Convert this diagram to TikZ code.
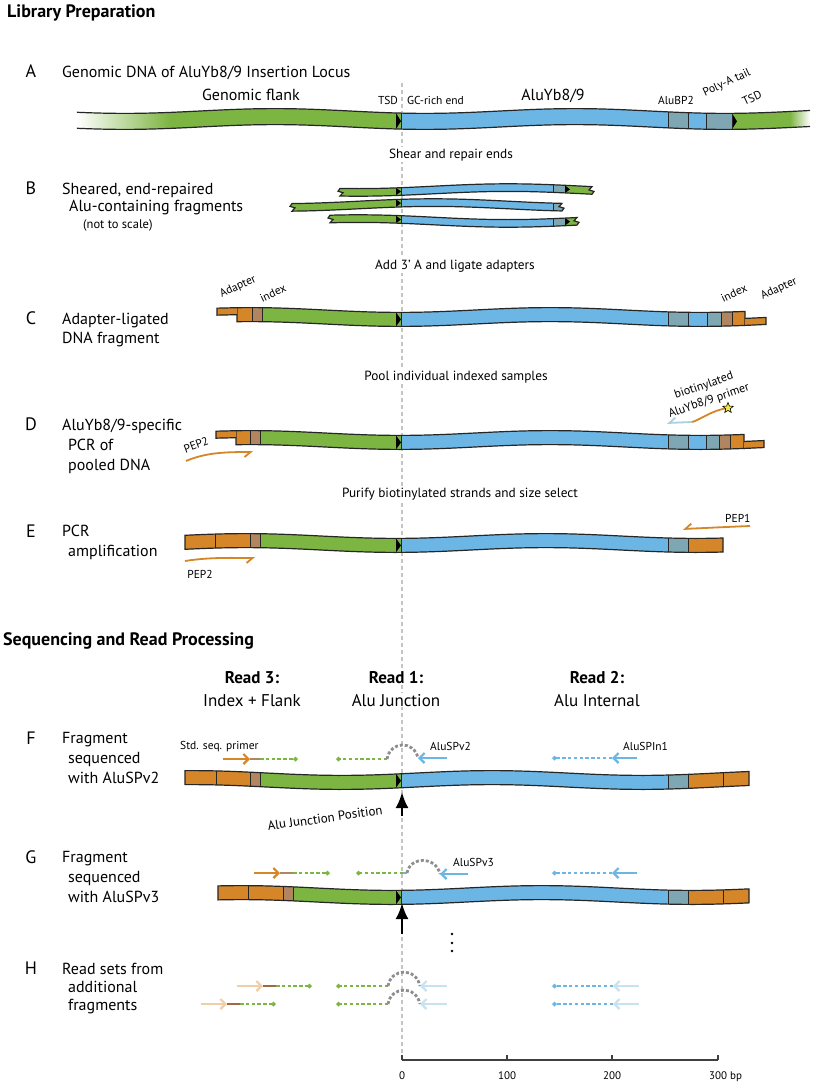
\documentclass[tikz,border=0pt]{standalone}
\usepackage{fontspec}
\setmainfont{PT Sans}
\usetikzlibrary{arrows.meta,shapes.geometric}
\definecolor{cgreen}{HTML}{7DB543}
\definecolor{cblue}{HTML}{6CB6E5}
\definecolor{cgray}{HTML}{7FA7B3}
\definecolor{corange}{HTML}{D48629}
\definecolor{cbrown}{HTML}{B08560}
\definecolor{cdbrown}{HTML}{9C6A45}
\definecolor{clblue}{HTML}{A9CFE0}
\definecolor{cfblue}{HTML}{C8E3EF}
\definecolor{cforange}{HTML}{EFCFA8}
\definecolor{carc}{HTML}{8E8E8E}
\definecolor{cdash}{HTML}{C4C4C4}
\definecolor{cstar}{HTML}{F3E845}

\newcommand\spath[5]{plot[domain=#1:#2,samples=60] (\x,{#3-#4+wa(\x,#5)}) -- plot[domain=#2:#1,samples=60] (\x,{#3+#4+wa(\x,#5)}) -- cycle}
\newcommand\sg[3]{\fill[#3] (#1,\cy-16) rectangle (#2,\cy+16);}
\newcommand\dv[1]{\draw[divl] (#1,\cy-16) -- (#1,\cy+16);}
\newcommand\tsd[1]{\pgfmathsetmacro\wo{wa(#1,\ph)}\fill[black] (#1-5,\cy+\wo-\hy) -- (#1,\cy+\wo) -- (#1-5,\cy+\wo+\hy) -- cycle;}
\newcommand\dna[6]{\begin{scope}\def\cy{#3}\def\hy{#4}\def\ph{#5}\clip \spath{#1}{#2}{#3}{#4}{#5}; #6 \end{scope}\draw[outl] \spath{#1}{#2}{#3}{#4}{#5};}
\newcommand\bpath[4]{plot[domain=#1:#2,samples=40] (\x,{#3-3.8+wa(\x,#4)}) -- (#2-3,#3+\wR-0.5) -- (#2+2,#3+\wR+1) -- plot[domain=#2:#1,samples=40] (\x,{#3+3.8+wa(\x,#4)}) -- (#1+3,#3+\wL+0.5) -- (#1-2,#3+\wL-1) -- cycle}
\newcommand\bdna[5]{\pgfmathsetmacro\wL{wa(#1,#4)}\pgfmathsetmacro\wR{wa(#2,#4)}\begin{scope}\def\cy{#3}\def\hy{3.8}\def\ph{#4}\clip \bpath{#1}{#2}{#3}{#4}; #5 \end{scope}\draw[outl] \bpath{#1}{#2}{#3}{#4};}
\newcommand\ovtop[5]{\pgfmathsetmacro\wA{wa(#1,#5)}\pgfmathsetmacro\wB{wa(#2,#5)}\filldraw[fill=corange,outl] (#2,#3+\wB) -- (#1,#3+\wA) -- (#1,#3-#4+\wA) -- (#2,#3-#4+\wB);}
\newcommand\ovbot[5]{\pgfmathsetmacro\wA{wa(#1,#5)}\pgfmathsetmacro\wB{wa(#2,#5)}\filldraw[fill=corange,outl] (#1,#3+\wA) -- (#2,#3+\wB) -- (#2,#3+#4+\wB) -- (#1,#3+#4+\wA);}

\begin{document}
\begin{tikzpicture}[x=1pt,y=-1pt,
  declare function={wa(\x,\p)=2.4*sin(1.2*\x+\p);},
  outl/.style={draw=black!85,line width=1.2},
  divl/.style={draw=black!85,line width=0.9},
  ttl/.style={font=\fontsize{18}{21}\selectfont\bfseries,anchor=base west,inner sep=0},
  rowl/.style={font=\fontsize{18}{21}\selectfont,anchor=base,inner sep=0},
  big/.style={font=\fontsize{16}{19}\selectfont,anchor=base west,inner sep=0},
  stepnote/.style={font=\fontsize{13.3}{16}\selectfont,anchor=base,fill=white,inner sep=1.5},
  sml/.style={font=\fontsize{11.5}{13}\selectfont,inner sep=0},
  rdh/.style={font=\fontsize{17}{20}\selectfont,anchor=base,fill=white,inner sep=1},
  gread/.style={draw=cgreen,line width=2.6,dash pattern=on 3.5pt off 2.3pt,-{Turned Square[length=5,width=5]}},
  bread/.style={draw=cblue,line width=2.6,dash pattern=on 3.5pt off 2.3pt,-{Turned Square[length=5,width=5]}},
  prim/.style={line width=2.2,-{Straight Barb[length=5,width=10]}},
  harp/.style={line width=1.8,-{Straight Barb[harpoon,swap,length=6,width=10]}},
  arcl/.style={draw=carc,line width=2.8,dash pattern=on 3pt off 2pt},
  jarrow/.style={line width=2.6,-{Latex[length=16,width=13]}},
  idx/.style={line width=2.6}
]
\useasboundingbox (0,0) rectangle (816,1092);
\fill[white] (0,0) rectangle (816,1092);

% vertical guide line
\coordinate (vtop) at (402,83);
\coordinate (vbot) at (402,1060);
\draw[cdash,line width=1.1,dash pattern=on 4pt off 3pt] (vtop) -- (vbot);

% ---------- headings ----------
\node[ttl] (t1) at (7,17) {Library Preparation};
\node[ttl] (t2) at (3,645) {Sequencing and Read Processing};

% ---------- A ----------
\node[rowl] (lA) at (31,77) {A};
\node[big] (dA) at (62,77) {Genomic DNA of AluYb8/9 Insertion Locus};
\node[big,anchor=base] (gf) at (251,100) {Genomic flank};
\node[big,anchor=base] (ay) at (553,100) {AluYb8/9};
\node[sml,anchor=base] (tsd1) at (388,104) {TSD};
\node[sml,anchor=base west] (gc) at (407,104) {GC-rich end};
\node[sml,anchor=base] (bp2) at (676,104) {AluBP2};
\node[sml,rotate=25] (pa) at (727,83) {Poly-A tail};
\node[sml,rotate=25] (tsd2) at (752,98) {TSD};
\begin{scope}
\def\cy{119}\def\hy{8}\def\ph{-60}
\clip \spath{77}{810}{119}{8}{-60};
\shade[left color=white,right color=cgreen] (77,100) rectangle (170,140);
\sg{169}{401}{cgreen}
\tsd{401}
\sg{401}{668}{cblue}\sg{668}{688}{cgray}\sg{688}{706}{cblue}\sg{706}{732}{cgray}
\sg{732}{791}{cgreen}
\tsd{737}
\shade[left color=cgreen,right color=white] (790,100) rectangle (810,140);
\dv{401}\dv{668}\dv{688}\dv{706}\dv{732}
\end{scope}
\draw[outl] plot[domain=77:810,samples=80] (\x,{111+wa(\x,-60)});
\draw[outl] plot[domain=77:810,samples=80] (\x,{127+wa(\x,-60)});

% ---------- B ----------
\node[stepnote] (sB) at (451,158) {Shear and repair ends};
\node[rowl] (lB) at (31,194) {B};
\node[big] (bl1) at (62,194) {Sheared, end-repaired};
\node[big] (bl2) at (69,211) {Alu-containing fragments};
\node[big,font=\fontsize{12.5}{15}\selectfont] (bl3) at (83,228) {(not to scale)};
\bdna{340}{592}{190}{20}{\sg{330}{401}{cgreen}\tsd{401}\sg{401}{553}{cblue}\sg{553}{566}{cgray}\sg{566}{600}{cgreen}\tsd{570}\dv{401}\dv{553}}
\bdna{292}{562}{205}{110}{\sg{280}{401}{cgreen}\tsd{401}\sg{401}{553}{cblue}\sg{553}{570}{cgray}\dv{401}\dv{553}}
\bdna{330}{577}{221}{200}{\sg{320}{401}{cgreen}\tsd{401}\sg{401}{553}{cblue}\sg{553}{566}{cgray}\sg{566}{590}{cgreen}\tsd{570}\dv{401}\dv{553}}

% ---------- C ----------
\node[stepnote] (sC) at (455,269) {Add 3’ A and ligate adapters};
\node[rowl] (lC) at (31,324) {C};
\node[big] (cl1) at (62,324) {Adapter-ligated};
\node[big] (cl2) at (62,343) {DNA fragment};
\node[sml,rotate=25] (ad1) at (238,287) {Adapter};
\node[sml,rotate=25] (ix1) at (273,293) {index};
\node[sml,rotate=25] (ix2) at (734,293) {index};
\node[sml,rotate=25] (ad2) at (779,289) {Adapter};
\dna{237}{745}{317}{7}{-30}{\sg{230}{252}{corange}\sg{252}{262}{cbrown}\sg{262}{401}{cgreen}\tsd{401}\sg{401}{668}{cblue}\sg{668}{688}{cgray}\sg{688}{707}{cblue}\sg{707}{721}{cgray}\sg{721}{732}{cbrown}\sg{732}{750}{corange}\dv{252}\dv{262}\dv{401}\dv{668}\dv{688}\dv{707}\dv{721}\dv{732}}
\ovtop{217}{237}{317}{7}{-30}
\ovbot{745}{766}{317}{7}{-30}

% ---------- D ----------
\node[stepnote] (sD) at (456,380) {Pool individual indexed samples};
\node[rowl] (lD) at (31,430) {D};
\node[big] (dl1) at (62,430) {AluYb8/9-specific};
\node[big] (dl2) at (68,450) {PCR of};
\node[big] (dl3) at (68,470) {pooled DNA};
\dna{236}{744}{440}{7}{-30}{\sg{230}{250}{corange}\sg{250}{260}{cbrown}\sg{260}{401}{cgreen}\tsd{401}\sg{401}{668}{cblue}\sg{668}{688}{cgray}\sg{688}{706}{cblue}\sg{706}{719}{cgray}\sg{719}{730}{cbrown}\sg{730}{750}{corange}\dv{250}\dv{260}\dv{401}\dv{668}\dv{688}\dv{706}\dv{719}\dv{730}}
\ovtop{216}{236}{440}{7}{-30}
\ovbot{744}{764}{440}{7}{-30}
\node[sml,rotate=20] (pep2a) at (196,445) {PEP2};
\coordinate (p2a) at (186,461);
\coordinate (p2b) at (253,452);
\draw[corange,harp] (p2a) .. controls (205,453) and (222,452) .. (p2b);
\node[sml,rotate=19,font=\fontsize{12}{14}\selectfont] (bio1) at (704,386) {biotinylated};
\node[sml,rotate=19,font=\fontsize{12}{14}\selectfont] (bio2) at (709,401) {AluYb8/9 primer};
\coordinate (bpm) at (692,422);
\coordinate (bpe) at (667,423);
\coordinate (bps) at (728,408);
\draw[corange,line width=1.8] (bps) .. controls (712,410) and (700,420) .. (bpm);
\draw[clblue,harp] (bpm) -- (bpe);
\node[star,star points=5,star point ratio=2.3,minimum size=11,inner sep=0,fill=cstar,draw=black,line width=0.6] (bt) at (bps) {};

% ---------- E ----------
\node[stepnote] (sE) at (460,497) {Purify biotinylated strands and size select};
\node[rowl] (lE) at (31,537) {E};
\node[big] (el1) at (62,536) {PCR};
\node[big] (el2) at (68,556) {amplification};
\dna{185}{723}{543}{7}{-25}{\sg{180}{250}{corange}\sg{250}{260}{cbrown}\sg{260}{401}{cgreen}\tsd{401}\sg{401}{668}{cblue}\sg{668}{688}{cgray}\sg{688}{730}{corange}\dv{215}\dv{250}\dv{260}\dv{401}\dv{668}\dv{688}}
\node[sml,anchor=base west] (pep1) at (725,522) {PEP1};
\coordinate (p1a) at (750,526);
\coordinate (p1b) at (683,529);
\draw[corange,harp] (p1a) .. controls (725,527) and (705,528) .. (p1b);
\coordinate (p2c) at (185,561);
\coordinate (p2d) at (255,558);
\draw[corange,harp] (p2c) .. controls (210,557) and (232,558) .. (p2d);
\node[sml] (pep2b) at (200,574) {PEP2};

% ---------- read headers ----------
\node[rdh,font=\fontsize{17}{20}\selectfont\bfseries] (r3) at (252,683) {Read 3:};
\node[rdh] (r3b) at (252,706) {Index + Flank};
\node[rdh,font=\fontsize{17}{20}\selectfont\bfseries] (r1) at (396,683) {Read 1:};
\node[rdh] (r1b) at (396,706) {Alu Junction};
\node[rdh,font=\fontsize{17}{20}\selectfont\bfseries] (r2) at (597,683) {Read 2:};
\node[rdh] (r2b) at (597,706) {Alu Internal};

% ---------- F ----------
\node[rowl] (lF) at (31,744) {F};
\node[big] (fl1) at (62,743) {Fragment};
\node[big] (fl2) at (68,763) {sequenced};
\node[big] (fl3) at (68,783) {with AluSPv2};
\dna{185}{749}{780}{7}{40}{\sg{180}{250}{corange}\sg{250}{260}{cbrown}\sg{260}{401}{cgreen}\tsd{401}\sg{401}{668}{cblue}\sg{668}{688}{cgray}\sg{688}{755}{corange}\dv{216}\dv{250}\dv{260}\dv{401}\dv{668}\dv{688}\dv{723}}
\node[sml,anchor=base west] (ssp) at (180,749) {Std. seq. primer};
\node[sml,anchor=base west] (sv2) at (430,750) {AluSPv2};
\node[sml,anchor=base west] (sin1) at (623,750) {AluSPIn1};
\coordinate (f3a) at (223,759);
\coordinate (f3b) at (250,759);
\coordinate (f3c) at (260,759);
\coordinate (f3d) at (298,759);
\draw[corange,prim] (f3a) -- (f3b);
\draw[cbrown,idx] (f3b) -- (f3c);
\draw[gread] (f3c) -- (f3d);
\coordinate (f1a) at (387,759);
\coordinate (f1b) at (336,759);
\coordinate (f1c) at (418,758);
\coordinate (f1d) at (447,758);
\draw[gread] (f1a) -- (f1b);
\draw[arcl] (f1a) .. controls (390,741) and (414,740) .. (f1c);
\draw[cblue,prim] (f1d) -- (f1c);
\coordinate (f2a) at (612,758);
\coordinate (f2b) at (552,758);
\coordinate (f2c) at (637,758);
\draw[bread] (f2a) -- (f2b);
\draw[cblue,prim] (f2c) -- (f2a);
\coordinate (ja1) at (402,816);
\coordinate (ja2) at (402,792);
\draw[jarrow] (ja1) -- (ja2);
\node[sml,rotate=8,font=\fontsize{13}{15}\selectfont] (ajp) at (325,818) {Alu Junction Position};

% ---------- G ----------
\node[rowl] (lG) at (31,863) {G};
\node[big] (gl1) at (62,862) {Fragment};
\node[big] (gl2) at (68,882) {sequenced};
\node[big] (gl3) at (68,902) {with AluSPv3};
\dna{218}{749}{895}{7}{-20}{\sg{210}{283}{corange}\sg{283}{293}{cbrown}\sg{293}{401}{cgreen}\tsd{401}\sg{401}{668}{cblue}\sg{668}{688}{cgray}\sg{688}{755}{corange}\dv{248}\dv{283}\dv{293}\dv{401}\dv{668}\dv{688}\dv{723}}
\node[sml,anchor=base west] (sv3) at (453,866) {AluSPv3};
\coordinate (g3a) at (254,873);
\coordinate (g3b) at (280,873);
\coordinate (g3c) at (293,873);
\coordinate (g3d) at (330,873);
\draw[corange,prim] (g3a) -- (g3b);
\draw[cbrown,idx] (g3b) -- (g3c);
\draw[gread] (g3c) -- (g3d);
\coordinate (g1a) at (403,873);
\coordinate (g1b) at (356,873);
\coordinate (g1e) at (407,873);
\coordinate (g1c) at (440,874);
\coordinate (g1d) at (468,874);
\draw[gread] (g1a) -- (g1b);
\draw[cblue,idx] (g1a) -- (g1e);
\draw[arcl] (g1e) .. controls (410,856) and (436,856) .. (g1c);
\draw[cblue,prim] (g1d) -- (g1c);
\coordinate (g2a) at (612,873);
\coordinate (g2b) at (552,873);
\coordinate (g2c) at (637,873);
\draw[bread] (g2a) -- (g2b);
\draw[cblue,prim] (g2c) -- (g2a);
\coordinate (jb1) at (402,934);
\coordinate (jb2) at (402,903);
\draw[jarrow] (jb1) -- (jb2);
\foreach \i/\yy in {1/934,2/943,3/951}{\node[circle,fill=black,inner sep=0,minimum size=2.8] (dot\i) at (452,\yy) {};}

% ---------- H ----------
\node[rowl] (lH) at (31,974) {H};
\node[big] (hl1) at (62,974) {Read sets from};
\node[big] (hl2) at (68,992) {additional};
\node[big] (hl3) at (68,1010) {fragments};
\foreach \r/\yy/\xa in {1/986/237,2/1004/201}{
  \coordinate (h\r oa) at (\xa,\yy);
  \coordinate (h\r ob) at (\xa+26,\yy);
  \coordinate (h\r oc) at (\xa+39,\yy);
  \coordinate (h\r od) at (\xa+75,\yy);
  \draw[cforange,prim] (h\r oa) -- (h\r ob);
  \draw[cdbrown,idx] (h\r ob) -- (h\r oc);
  \draw[gread] (h\r oc) -- (h\r od);
  \coordinate (h\r ga) at (388,\yy);
  \coordinate (h\r gb) at (336,\yy);
  \coordinate (h\r gc) at (420,\yy);
  \coordinate (h\r gd) at (447,\yy);
  \draw[gread] (h\r ga) -- (h\r gb);
  \draw[arcl] (h\r ga) .. controls (391,\yy-18) and (416,\yy-19) .. (h\r gc);
  \draw[cfblue,prim] (h\r gd) -- (h\r gc);
  \coordinate (h\r ba) at (613,\yy);
  \coordinate (h\r bb) at (552,\yy);
  \coordinate (h\r bc) at (639,\yy);
  \draw[bread] (h\r ba) -- (h\r bb);
  \draw[cfblue,prim] (h\r bc) -- (h\r ba);
}

% ---------- axis ----------
\coordinate (ax0) at (402,1060);
\coordinate (ax1) at (507,1060);
\coordinate (ax2) at (612,1060);
\coordinate (ax3) at (718,1060);
\draw[black!75,line width=1.3] (ax0) -- (ax3);
\foreach \c in {ax0,ax1,ax2,ax3}{\draw[black!75,line width=1.3] (\c) -- ++(0,-5);}
\node[sml,anchor=base,font=\fontsize{11}{13}\selectfont] (a0) at (402,1079) {0};
\node[sml,anchor=base,font=\fontsize{11}{13}\selectfont] (a1) at (507,1079) {100};
\node[sml,anchor=base,font=\fontsize{11}{13}\selectfont] (a2) at (612,1079) {200};
\node[sml,anchor=base west,font=\fontsize{11}{13}\selectfont] (a3) at (709,1079) {300 bp};
\end{tikzpicture}
\end{document}
